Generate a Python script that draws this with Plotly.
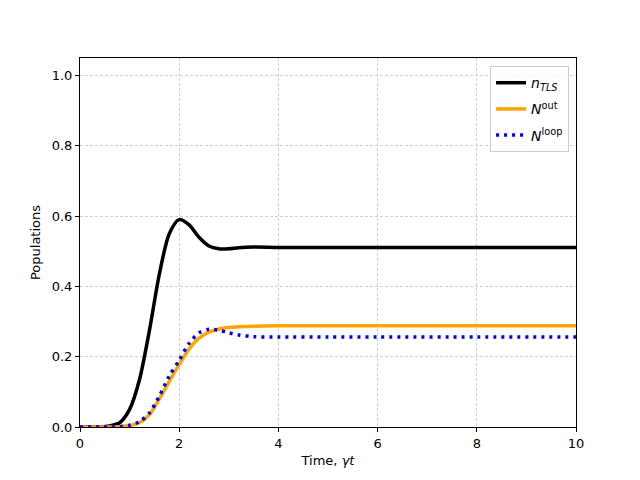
import plotly.graph_objects as go

time = [0, 0.4, 0.6, 0.8, 1.0, 1.2, 1.4, 1.6, 1.8, 2.0, 2.2, 2.4, 2.6, 2.8, 3.0, 3.2, 3.5, 4, 5, 6, 8, 10]
n_tls = [0, 0.0, 0.003, 0.012, 0.05, 0.135, 0.275, 0.435, 0.55, 0.59, 0.575, 0.54, 0.515, 0.507, 0.507, 0.51, 0.512, 0.511, 0.511, 0.511, 0.511, 0.511]
n_out = [0, 0, 0.0, 0.001, 0.004, 0.012, 0.035, 0.08, 0.13, 0.178, 0.222, 0.253, 0.27, 0.279, 0.283, 0.285, 0.287, 0.288, 0.288, 0.288, 0.288, 0.288]
n_loop = [0, 0, 0.0, 0.001, 0.005, 0.015, 0.04, 0.088, 0.145, 0.19, 0.238, 0.268, 0.278, 0.275, 0.268, 0.262, 0.257, 0.256, 0.256, 0.256, 0.256, 0.256]

x_ticks = [0, 2, 4, 6, 8, 10]
y_ticks = [0.0, 0.2, 0.4, 0.6, 0.8, 1.0]

fig = go.Figure()
fig.add_trace(go.Scatter(x=time, y=n_tls, mode="lines", legendgroup="a",
                         line=dict(color="black", width=3.5, shape="spline", smoothing=0.8),
                         name="<i>n<sub>TLS</sub></i>"))
fig.add_trace(go.Scatter(x=time, y=n_out, mode="lines", legendgroup="b",
                         line=dict(color="orange", width=3.5, shape="spline", smoothing=0.8),
                         name="<i>N</i><sup>out</sup>"))
fig.add_trace(go.Scatter(x=time, y=n_loop, mode="lines", legendgroup="c",
                         line=dict(color="blue", width=3.5, dash="3px,5px", shape="spline", smoothing=0.8),
                         name="<i>N</i><sup>loop</sup>"))

axis_common = dict(showline=True, linecolor="black", linewidth=1, mirror=True, ticks="outside",
                   ticklen=4, tickcolor="black", showgrid=True, gridcolor="#d0d0d0", griddash="3px,2px",
                   gridwidth=1, zeroline=False, tickfont=dict(size=13, color="black"))
fig.update_xaxes(range=[0, 10], tickvals=x_ticks, ticktext=[str(v) for v in x_ticks],
                 title=dict(text="Time, <i>γt</i>", font=dict(size=13, color="black"), standoff=6), **axis_common)
fig.update_yaxes(range=[0, 1.05], tickvals=y_ticks, ticktext=[f"{v:.1f}" for v in y_ticks],
                 title=dict(text="Populations", font=dict(size=13, color="black"), standoff=8), **axis_common)

fig.update_layout(width=640, height=480, margin=dict(l=80, r=64, t=58, b=53),
                  paper_bgcolor="white", plot_bgcolor="white",
                  font=dict(family="DejaVu Sans", size=13, color="black"),
                  legend=dict(x=0.986, y=0.978, xanchor="right", yanchor="top",
                              bordercolor="#cccccc", borderwidth=1, bgcolor="rgba(255,255,255,0.8)",
                              font=dict(size=14), tracegroupgap=5, itemwidth=30),
                  showlegend=True)

fig.write_html("out.html")
